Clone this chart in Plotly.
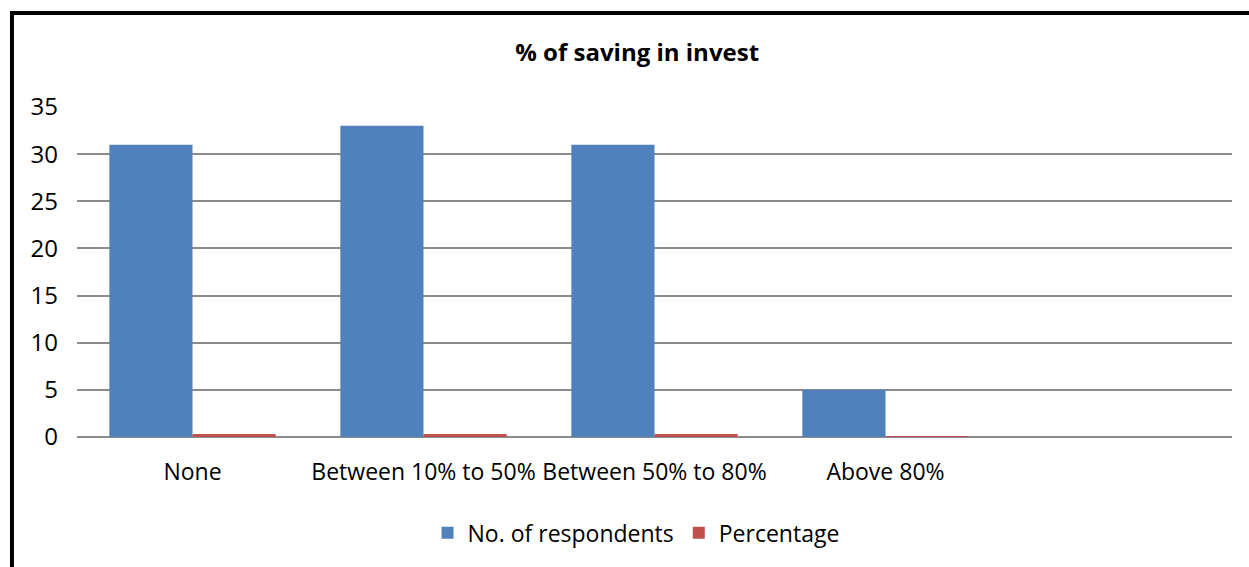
import plotly.graph_objects as go

# Survey: share of savings put into investments
categories = ["None", "Between 10% to 50%", "Between 50% to 80%", "Above 80%"]
respondents = [31, 33, 31, 5]
percentage = [0.31, 0.33, 0.31, 0.05]
y_ticks = [0, 5, 10, 15, 20, 25, 30, 35]

FONT = "Open Sans"

fig = go.Figure()
fig.add_trace(go.Bar(name="No. of respondents", x=categories, y=respondents,
                     marker=dict(color="#4F81BD", line=dict(width=0))))
fig.add_trace(go.Bar(name="Percentage", x=categories, y=percentage,
                     marker=dict(color="#C0504D", line=dict(width=0))))

fig.update_layout(
    width=1249, height=567,
    margin=dict(l=77, r=17, t=107, b=130, autoexpand=False),
    paper_bgcolor="white", plot_bgcolor="white",
    barmode="group", bargap=0.28, bargroupgap=0,
    font=dict(family=FONT, size=22, color="black"),
    title=dict(text="<b>% of saving in invest</b>", xref="paper", x=0.485,
               xanchor="center", y=0.908, yanchor="middle",
               font=dict(family=FONT, size=24)),
    showlegend=True,
    legend=dict(orientation="h", x=0.484, xanchor="center", y=-0.225, yanchor="top",
                font=dict(family=FONT, size=23), itemwidth=30, traceorder="normal"),
    xaxis=dict(range=[-0.5, 4.5], showgrid=False, showline=False, ticks="",
               automargin=False,
               tickfont=dict(family=FONT, size=23), ticklabelstandoff=19),
    yaxis=dict(range=[0, 35], tickvals=y_ticks, showgrid=True, gridcolor="#8C8C8C",
               gridwidth=1.6, zeroline=True, zerolinecolor="#8C8C8C", zerolinewidth=1.6,
               showline=False, ticks="", automargin=False,
               tickfont=dict(family=FONT, size=24), ticklabelstandoff=18),
    shapes=[dict(type="rect", xref="paper", yref="paper",
                 x0=-0.0563, x1=1.2, y0=-1.0, y1=1.285,
                 line=dict(color="black", width=4), fillcolor="rgba(0,0,0,0)",
                 layer="above")],
)

fig.write_html("out.html")
